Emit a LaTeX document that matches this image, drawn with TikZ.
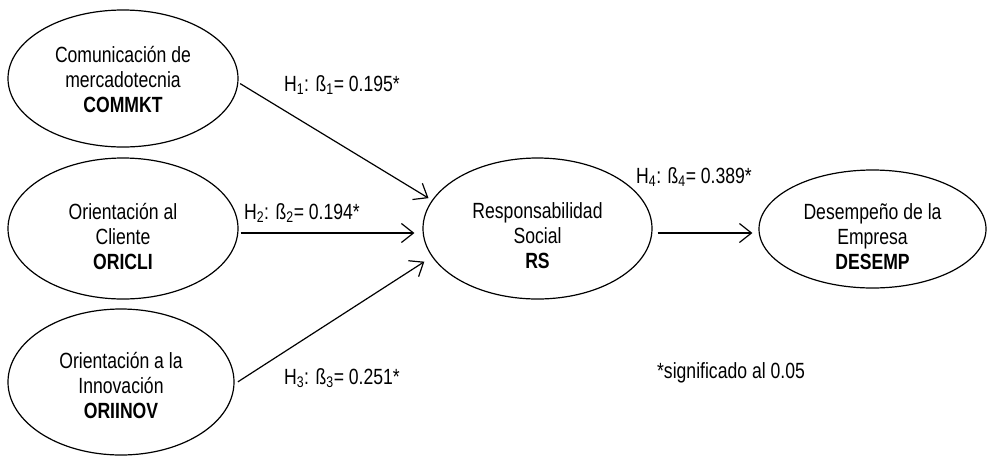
\documentclass[tikz,border=0pt]{standalone}
\usepackage{fontspec}
\setmainfont{Liberation Sans}[FakeStretch=0.8]
\usetikzlibrary{shapes.geometric,arrows.meta}
\begin{document}
\begin{tikzpicture}[x=1pt,y=-1pt,
  ell/.style={draw, ellipse, line width=1.2pt, inner sep=0pt},
  txt/.style={align=center, font=\fontsize{22}{25}\selectfont, inner sep=0pt},
  lab/.style={font=\fontsize{22}{25}\selectfont, inner sep=0pt},
  arr/.style={-{Straight Barb[length=12pt,width=19pt,line width=1.2pt]}, line width=1.2pt}]
\useasboundingbox (0,0) rectangle (987,456);
% ellipses
\node[ell, minimum width=230pt, minimum height=137pt] (commkt) at (123,78.5) {};
\node[ell, minimum width=230pt, minimum height=141pt] (oricli) at (123,228.5) {};
\node[ell, minimum width=226pt, minimum height=146pt] (oriinov) at (121,382) {};
\node[ell, minimum width=229pt, minimum height=141pt] (rs) at (537.5,228.5) {};
\node[ell, minimum width=227pt, minimum height=118pt] (desemp) at (872.5,229) {};
% texts
\node[txt] (tcommkt) at (123,80) {Comunicación de\\mercadotecnia\\\textbf{COMMKT}};
\node[txt] (toricli) at (123,236) {Orientación al\\Cliente\\\textbf{ORICLI}};
\node[txt] (toriinov) at (121,385) {Orientación a la\\Innovación\\\textbf{ORIINOV}};
\node[txt] (trs) at (537.5,236) {Responsabilidad\\Social\\\textbf{RS}};
\node[txt] (tdesemp) at (872.5,237) {Desempeño de la\\Empresa\\\textbf{DESEMP}};
% arrows
\draw[arr, shorten <=2pt, shorten >=4pt] (commkt.-2) -- (rs.165);
\draw[arr, shorten <=2pt, shorten >=8pt] (oricli.east |- 0,233) coordinate (s2) -- (rs.west |- s2);
\draw[arr, shorten <=4pt, shorten >=9pt] (oriinov.-1) -- (rs.-165);
\draw[arr, shorten <=5pt, shorten >=6pt] (rs.east |- 0,233) coordinate (s4) -- (desemp.west |- s4);
% labels
\node[lab] (h1) at (342,85) {H\textsubscript{1}: ß\textsubscript{1}= 0.195*};
\node[lab] (h2) at (302,213) {H\textsubscript{2}: ß\textsubscript{2}= 0.194*};
\node[lab] (h3) at (342,378) {H\textsubscript{3}: ß\textsubscript{3}= 0.251*};
\node[lab] (h4) at (694,177) {H\textsubscript{4}: ß\textsubscript{4}= 0.389*};
\node[lab] (note) at (731,373) {*significado al 0.05};
\end{tikzpicture}
\end{document}
